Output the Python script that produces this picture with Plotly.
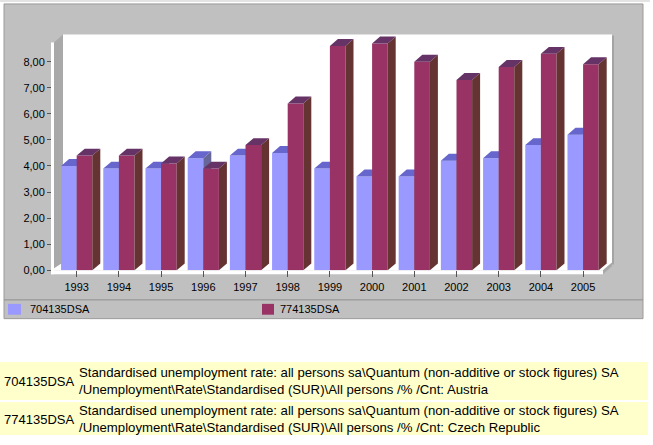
import plotly.graph_objects as go

# ---------------- data ----------------
years = ["1993", "1994", "1995", "1996", "1997", "1998", "1999",
         "2000", "2001", "2002", "2003", "2004", "2005"]
austria = [4.0, 3.9, 3.9, 4.3, 4.4, 4.5, 3.9, 3.6, 3.6, 4.2, 4.3, 4.8, 5.2]
czech = [4.4, 4.4, 4.1, 3.9, 4.8, 6.4, 8.6, 8.7, 8.0, 7.3, 7.8, 8.3, 7.9]
series_codes = ["704135DSA", "774135DSA"]
desc_line1 = [
    "Standardised unemployment rate: all persons sa\\Quantum (non-additive or stock figures) SA",
    "Standardised unemployment rate: all persons sa\\Quantum (non-additive or stock figures) SA",
]
desc_line2 = [
    "/Unemployment\\Rate\\Standardised (SUR)\\All persons /% /Cnt: Austria",
    "/Unemployment\\Rate\\Standardised (SUR)\\All persons /% /Cnt: Czech Republic",
]
ytick_vals = [0, 1, 2, 3, 4, 5, 6, 7, 8]
ytick_text = ["0,00", "1,00", "2,00", "3,00", "4,00", "5,00", "6,00", "7,00", "8,00"]

# ---------------- geometry ----------------
W, H = 653, 445
UX = 42.2          # px per category
UY = 230.0 / 8.7   # px per unit
X0, YB = 52.0, 274.0
XR = [-0.585, 12.75]
YR = [0, 9.3]
X1 = X0 + (XR[1] - XR[0]) * UX
YT = YB - (YR[1] - YR[0]) * UY
DX = 8.0 / UX
DY = 7.0 / UY
BW = 0.37


def px(x):
    return x / W


def py(y):
    return 1 - y / H


FONT = "Liberation Sans, Arial, sans-serif"

styles = [
    dict(front="#9999ff", top="#6666cc", side="#666699"),
    dict(front="#993366", top="#663366", side="#663333"),
]

fig = go.Figure()
xs_idx = list(range(len(years)))
for s, vals in enumerate([austria, czech]):
    fx, fy, tx, ty, sx, sy = [], [], [], [], [], []
    for i, h in zip(xs_idx, vals):
        x0 = i - BW + s * BW
        x1 = x0 + BW
        fx += [x0, x1, x1, x0, x0, None]
        fy += [0, 0, h, h, 0, None]
        tx += [x0, x1, x1 + DX, x0 + DX, x0, None]
        ty += [h, h, h + DY, h + DY, h, None]
        sx += [x1, x1 + DX, x1 + DX, x1, x1, None]
        sy += [0, DY, h + DY, h, 0, None]
    for xx, yy, col in [(fx, fy, styles[s]["front"]),
                        (tx, ty, styles[s]["top"]),
                        (sx, sy, styles[s]["side"])]:
        fig.add_trace(go.Scatter(
            x=xx, y=yy, mode="lines", fill="toself", fillcolor=col,
            line=dict(width=0, color=col), hoverinfo="skip",
            showlegend=False, name=series_codes[s]))

shapes = []


def rect(x0, y0, x1, y1, fill, line=None, lw=0):
    return dict(type="rect", xref="paper", yref="paper", layer="below",
                x0=px(x0), x1=px(x1), y0=py(y1), y1=py(y0),
                fillcolor=fill, line=dict(width=lw, color=line or fill))


def poly(pts, fill):
    d = "M" + " L".join(f"{px(a):.5f},{py(b):.5f}" for a, b in pts) + " Z"
    return dict(type="path", xref="paper", yref="paper", layer="below",
                path=d, fillcolor=fill, line=dict(width=0))


def hline(x0, x1, y, col, w=1):
    return dict(type="line", xref="paper", yref="paper", layer="below",
                x0=px(x0), x1=px(x1), y0=py(y), y1=py(y),
                line=dict(color=col, width=w))


def vline(x, y0, y1, col, w=1):
    return dict(type="line", xref="paper", yref="paper", layer="below",
                x0=px(x), x1=px(x), y0=py(y0), y1=py(y1),
                line=dict(color=col, width=w))


shapes.append(hline(0, 650, 1, "#c8c8c8"))
shapes.append(rect(4, 4, 643, 323, "#c0c0c0", "#9a9a9a", 1))
shapes.append(hline(4, 643, 304, "#8e8e8e"))
# back wall
shapes.append(rect(63, 35, 612, 267, "#ffffff"))
shapes.append(vline(613, 36, 268, "#a4a4a4", 2))
# left wall
shapes.append(poly([(54, 43), (63, 35), (63, 267), (54, 274)], "#a9a9a9"))
shapes.append(rect(51, 43, 54, 278, "#ffffff"))
# floor
shapes.append(poly([(51, 274), (603, 274), (612, 266), (63, 266)], "#ffffff"))
shapes.append(rect(51, 274, 603, 278, "#ffffff"))
shapes.append(poly([(603, 274), (612, 266), (612, 270), (603, 278)], "#a9a9a9"))
# legend markers
shapes.append(rect(8, 308, 21, 319, styles[0]["front"]))
shapes.append(rect(262, 308, 274, 319, styles[1]["front"]))
# bottom table
shapes.append(rect(0, 367, 648, 405.5, "#ffffcc"))
shapes.append(rect(0, 407.5, 648, 441, "#ffffcc"))

annotations = [
    dict(xref="paper", yref="paper", x=px(28), y=py(313.5), text=series_codes[0],
         showarrow=False, xanchor="left", yanchor="middle",
         font=dict(family=FONT, size=11, color="#000000")),
    dict(xref="paper", yref="paper", x=px(278), y=py(313.5), text=series_codes[1],
         showarrow=False, xanchor="left", yanchor="middle",
         font=dict(family=FONT, size=11, color="#000000")),
]
code_centers = [386.5, 425.0]
line1_centers = [377.5, 416.5]
line2_centers = [395.0, 433.5]
for k in range(2):
    annotations.append(dict(
        xref="paper", yref="paper", x=px(2), y=py(code_centers[k]),
        text=series_codes[k], showarrow=False, xanchor="left", yanchor="middle",
        font=dict(family=FONT, size=13, color="#000000")))
    annotations.append(dict(
        xref="paper", yref="paper", x=px(77), y=py(line1_centers[k]),
        text=desc_line1[k], showarrow=False, xanchor="left", yanchor="middle",
        font=dict(family=FONT, size=13.2, color="#000000")))
    annotations.append(dict(
        xref="paper", yref="paper", x=px(77), y=py(line2_centers[k]),
        text=desc_line2[k], showarrow=False, xanchor="left", yanchor="middle",
        font=dict(family=FONT, size=13.2, color="#000000")))

fig.update_layout(
    width=W, height=H, autosize=False,
    margin=dict(l=0, r=0, t=0, b=0, pad=0),
    paper_bgcolor="#ffffff", plot_bgcolor="rgba(0,0,0,0)",
    showlegend=False, hovermode=False,
    shapes=shapes, annotations=annotations,
    xaxis=dict(domain=[px(X0), px(X1)], range=XR, tickmode="array",
               tickvals=xs_idx, ticktext=years, showgrid=False,
               zeroline=False, showline=False, ticks="outside", ticklen=6,
               tickcolor="#555555", tickfont=dict(family=FONT, size=11, color="#000000"),
               fixedrange=True),
    yaxis=dict(domain=[py(YB), py(YT)], range=YR, tickmode="array",
               tickvals=ytick_vals, ticktext=ytick_text, showgrid=False,
               zeroline=False, showline=False, ticks="outside", ticklen=4,
               tickcolor="#555555", tickfont=dict(family=FONT, size=11, color="#000000"),
               fixedrange=True),
)

fig.write_html("out.html")
